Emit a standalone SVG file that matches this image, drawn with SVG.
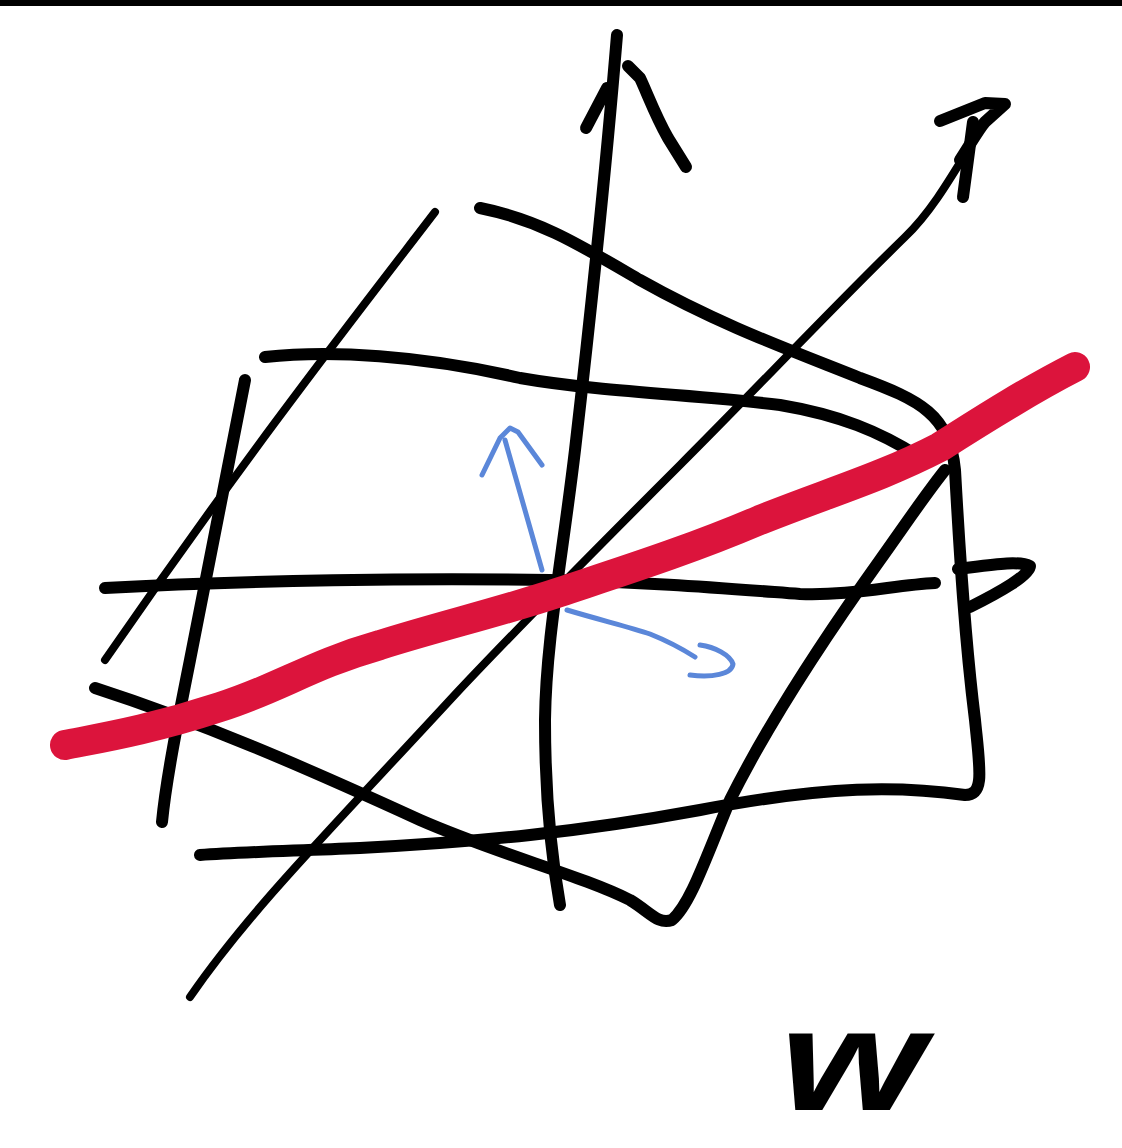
<svg xmlns="http://www.w3.org/2000/svg" width="1122" height="1148" viewBox="0 0 1122 1148">
<style>
.k{fill:none;stroke:#000;stroke-linecap:round;stroke-linejoin:round}
.t{stroke-width:12}
.n{stroke-width:8}
.b{fill:none;stroke:#5b87d9;stroke-width:5;stroke-linecap:round;stroke-linejoin:round}
.r{fill:none;stroke:#dc143c;stroke-width:30;stroke-linecap:round;stroke-linejoin:round}
</style>
<rect width="1122" height="1148" fill="#fff"/>
<rect x="0" y="0" width="1122" height="6" fill="#000"/>
<g id="strokes">
<path class="k t" d="M617,35 C605,180 590,320 575,450 C562,560 546,640 545,720 C545,800 552,860 560,905"/>
<path class="k t" d="M586,128 L607,88"/>
<path class="k t" d="M628,66 L640,78 C648,95 655,115 668,138 L686,167"/>
<path class="k n" d="M190,997 C250,910 330,830 450,700 C520,625 600,545 680,465 C760,385 830,310 905,237 C935,208 955,170 985,122"/>
<path class="k t" d="M960,160 C970,145 978,130 985,122 L1005,104 L985,103 L940,121"/>
<path class="k t" d="M973,122 L963,197"/>
<path class="k n" d="M435,212 C360,310 250,450 105,660"/>
<path class="k t" d="M95,688 C200,722 300,765 420,820 C500,855 580,875 630,900 C650,912 658,925 672,920 C690,905 705,860 730,800 C770,720 830,630 880,560 C905,525 925,495 945,470"/>
<path class="k t" d="M480,208 C540,220 580,245 640,280 C720,325 790,350 860,378 C920,400 950,415 955,470 C960,560 965,640 975,720 C980,770 985,795 965,795 C900,786 830,785 700,810 C580,832 480,842 360,848 C290,851 240,852 200,855"/>
<path class="k t" d="M265,357 C330,350 420,355 520,378 C600,392 700,395 780,405 C840,415 880,432 918,456"/>
<path class="k t" d="M245,380 C225,480 205,580 190,660 C178,720 166,780 162,822"/>
<path class="k t" d="M105,588 C250,580 420,578 550,580 C650,582 720,588 800,594 C850,596 895,585 935,583"/>
<path class="k t" d="M958,569 C990,565 1018,560 1030,566 C1030,575 1000,592 970,607"/>
<path class="r" d="M65,745 C100,738 150,730 220,707 C280,688 310,665 380,645 C440,626 500,612 560,592 C620,572 690,550 760,520 C830,492 880,478 940,447 C990,415 1030,390 1075,367"/>
<path class="b" d="M542,570 L505,440"/>
<path class="b" d="M482,475 L500,438 L510,428 L518,432 L542,465"/>
<path class="b" d="M567,610 C600,620 630,627 650,634 C670,642 684,650 695,657"/>
<path class="b" d="M700,645 C715,647 730,655 733,664 C732,674 712,678 690,675"/>
</g>
<text x="780" y="1110" font-family="Liberation Sans, sans-serif" font-weight="bold" font-style="italic" font-size="145" textLength="145" lengthAdjust="spacingAndGlyphs">w</text>
</svg>
